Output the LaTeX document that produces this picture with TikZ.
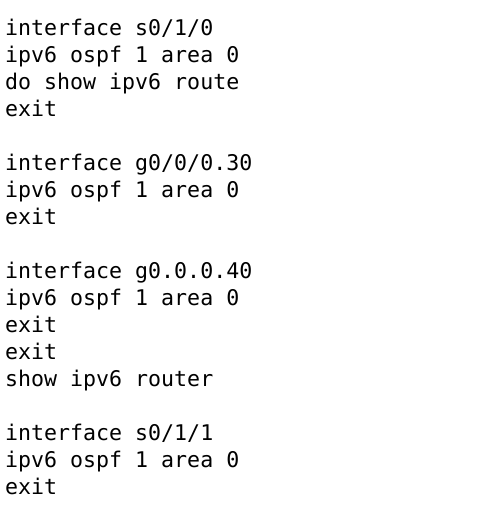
\documentclass[tikz,border=0pt]{standalone}
\usepackage{fontspec}
\newfontfamily\codefont{DejaVu Sans Mono}
\begin{document}
\begin{tikzpicture}[x=1pt,y=1pt,
  codeline/.style={anchor=base west,inner sep=0pt,font=\codefont\fontsize{21.6}{27}\selectfont,text=black}]
\useasboundingbox (0,0) rectangle (502,518);
\fill[white] (0,0) rectangle (502,518);
\foreach \t [count=\k from 0] in {%
  interface s0/1/0,
  ipv6 ospf 1 area 0,
  do show ipv6 route,
  exit,
  ,
  interface g0/0/0.30,
  ipv6 ospf 1 area 0,
  exit,
  ,
  interface g0.0.0.40,
  ipv6 ospf 1 area 0,
  exit,
  exit,
  show ipv6 router,
  ,
  interface s0/1/1,
  ipv6 ospf 1 area 0,
  exit}
  {\node[codeline] (line\k) at (5,{518-36-27*\k}) {\strut\t};}
\end{tikzpicture}
\end{document}
